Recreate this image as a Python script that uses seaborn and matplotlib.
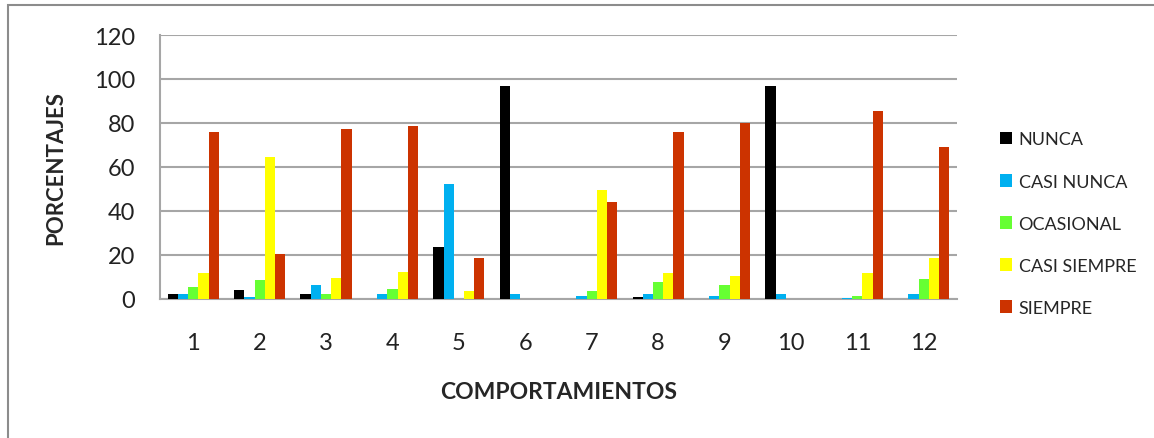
import matplotlib
matplotlib.use("Agg")
import matplotlib.pyplot as plt
from matplotlib.patches import Rectangle
import seaborn as sns
import pandas as pd

categories = [str(i) for i in range(1, 13)]
series_names = ["NUNCA", "CASI NUNCA", "OCASIONAL", "CASI SIEMPRE", "SIEMPRE"]
nunca = [2.5, 4, 2.5, 0, 23.5, 97, 0, 0.8, 0, 97, 0, 0]
casi_nunca = [2.5, 0.8, 6.5, 2.5, 52.5, 2.5, 1.2, 2.4, 1.2, 2.4, 0.6, 2.4]
ocasional = [5.3, 8.8, 2.5, 4.7, 0, 0, 3.6, 7.6, 6.5, 0, 1.2, 9]
casi_siempre = [11.8, 64.7, 9.4, 12.3, 3.6, 0, 49.5, 11.8, 10.5, 0, 11.8, 18.6]
siempre = [75.9, 20.5, 77.1, 78.8, 18.6, 0, 44, 75.9, 79.8, 0, 85.3, 69]
y_ticks = [0, 20, 40, 60, 80, 100, 120]

colors = ["#000000", "#00B0F0", "#66FF33", "#FFFF00", "#CC3300"]

values = [nunca, casi_nunca, ocasional, casi_siempre, siempre]
df = pd.DataFrame(
    [(c, s, v) for s, vals in zip(series_names, values) for c, v in zip(categories, vals)],
    columns=["comportamiento", "respuesta", "porcentaje"],
)

sns.set_theme(style="white")
plt.rcParams["font.family"] = ["Lato", "DejaVu Sans"]

fig = plt.figure(figsize=(11.54, 4.39), dpi=100)
ax = fig.add_axes([160 / 1154, 1 - 300 / 439, (957 - 160) / 1154, (300 - 36) / 439])

sns.barplot(
    data=df, x="comportamiento", y="porcentaje", hue="respuesta",
    order=categories, hue_order=series_names, palette=colors,
    width=0.77, dodge=True, saturation=1, errorbar=None, ax=ax, zorder=3,
    linewidth=0,
)

ax.set_ylim(0, 120)
ax.set_yticks(y_ticks)
ax.set_xlim(-0.5, len(categories) - 0.5)
ax.yaxis.grid(True, color="#a6a6a6", linewidth=1.5, zorder=0)
ax.set_axisbelow(True)
ax.tick_params(axis="y", length=0, pad=18, labelsize=17, labelcolor="#222222")
ax.tick_params(axis="x", length=0, pad=24, labelsize=17, labelcolor="#222222")

for side in ["top", "right"]:
    ax.spines[side].set_visible(False)
for side in ["left", "bottom"]:
    ax.spines[side].set_color("#a6a6a6")
    ax.spines[side].set_linewidth(1.5)

ax.set_xlabel("COMPORTAMIENTOS", fontsize=16.5, fontweight="bold", labelpad=20)
ax.set_ylabel("PORCENTAJES", fontsize=16, fontweight="bold", labelpad=20)

handles, labels = ax.get_legend_handles_labels()
ax.legend(
    handles, labels, loc="center left", bbox_to_anchor=(1.033, 0.285),
    frameon=False, fontsize=13, handlelength=0.7, handleheight=0.7,
    handletextpad=0.35, labelspacing=1.45,
)

fig.patches.append(Rectangle((7.5 / 1154, -0.05), 1.2, 1 - 6 / 439 + 0.05,
                             transform=fig.transFigure, fill=False,
                             edgecolor="#8c8c8c", linewidth=1.5))

fig.savefig("out.png", dpi=100, facecolor="white")
